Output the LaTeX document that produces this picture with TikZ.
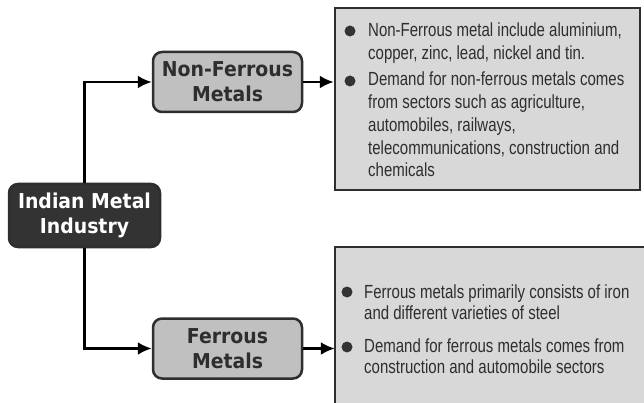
\documentclass[tikz,border=0pt]{standalone}
\usepackage{fontspec}
\usetikzlibrary{arrows.meta}
\newfontfamily\infofont[FakeStretch=0.79]{Liberation Sans}
\newfontfamily\boxfont[FakeStretch=0.92]{DejaVu Sans}
\definecolor{darkbox}{HTML}{333333}
\definecolor{midgray}{HTML}{C0C0C0}
\definecolor{lightgray}{HTML}{D8D8D8}
\definecolor{ink}{HTML}{2E2E2E}
\tikzset{
  catbox/.style={draw=ink, line width=2.5pt, rounded corners=9pt, fill=midgray,
    text=ink, align=center, inner sep=0pt,
    font=\boxfont\bfseries\fontsize{20.5}{25}\selectfont},
  rootbox/.style={catbox, fill=darkbox, text=white},
  infobox/.style={fill=lightgray, inner sep=0pt},
  infoline/.style={anchor=base west, inner sep=0pt, text=ink,
    font=\infofont\fontsize{19}{23}\selectfont},
  bullet/.style={circle, fill=darkbox, minimum size=11pt, inner sep=0pt},
  conn/.style={draw=black, line width=2.6pt,
    -{Latex[length=14pt,width=13pt]}},
}
\begin{document}
\begin{tikzpicture}[x=1pt,y=-1pt]
\useasboundingbox[fill=white] (0,0) rectangle (644,403);
% info boxes
\node[infobox, draw=ink, line width=2.5pt, minimum width=305pt, minimum height=182pt] (topinfo) at (487.5,99) {};
\node[infobox, minimum width=312pt, minimum height=159pt] (botinfo) at (491,326.5) {};
\draw[draw=ink, line width=2.5pt] (botinfo.north east) -- (botinfo.north west) -- (botinfo.south west);
% category boxes
\node[rootbox, minimum width=151pt, minimum height=63pt] (ind) at (84.5,215.5) {Indian Metal\\Industry};
\node[catbox, minimum width=149pt, minimum height=60pt] (nf) at (227.5,82) {Non-Ferrous\\Metals};
\node[catbox, minimum width=149pt, minimum height=60pt] (fe) at (227.5,348.5) {Ferrous\\Metals};
% connectors
\draw[conn] (ind.north) -- (ind.north |- nf.west) -- (nf.west);
\draw[conn] (ind.south) -- (ind.south |- fe.west) -- (fe.west);
\draw[conn] (nf.east) -- (nf.east -| topinfo.west);
\draw[conn] (fe.east) -- (fe.east -| botinfo.west);
% bullets
\node[bullet] (b1) at (350,31) {};
\node[bullet] (b2) at (350,81) {};
\node[bullet] (b3) at (347,292) {};
\node[bullet] (b4) at (347,347) {};
% top text
\node[infoline] (t1) at (368,37) {Non-Ferrous metal include aluminium,};
\node[infoline] (t2) at (368,60) {copper, zinc, lead, nickel and tin.};
\node[infoline] (t3) at (368,86) {Demand for non-ferrous metals comes};
\node[infoline] (t4) at (368,109) {from sectors such as agriculture,};
\node[infoline] (t5) at (368,132) {automobiles, railways,};
\node[infoline] (t6) at (368,155) {telecommunications, construction and};
\node[infoline] (t7) at (368,177) {chemicals};
% bottom text
\node[infoline] (u1) at (364,298) {Ferrous metals primarily consists of iron};
\node[infoline] (u2) at (364,319) {and different varieties of steel};
\node[infoline] (u3) at (364,352) {Demand for ferrous metals comes from};
\node[infoline] (u4) at (364,373) {construction and automobile sectors};
\end{tikzpicture}
\end{document}
